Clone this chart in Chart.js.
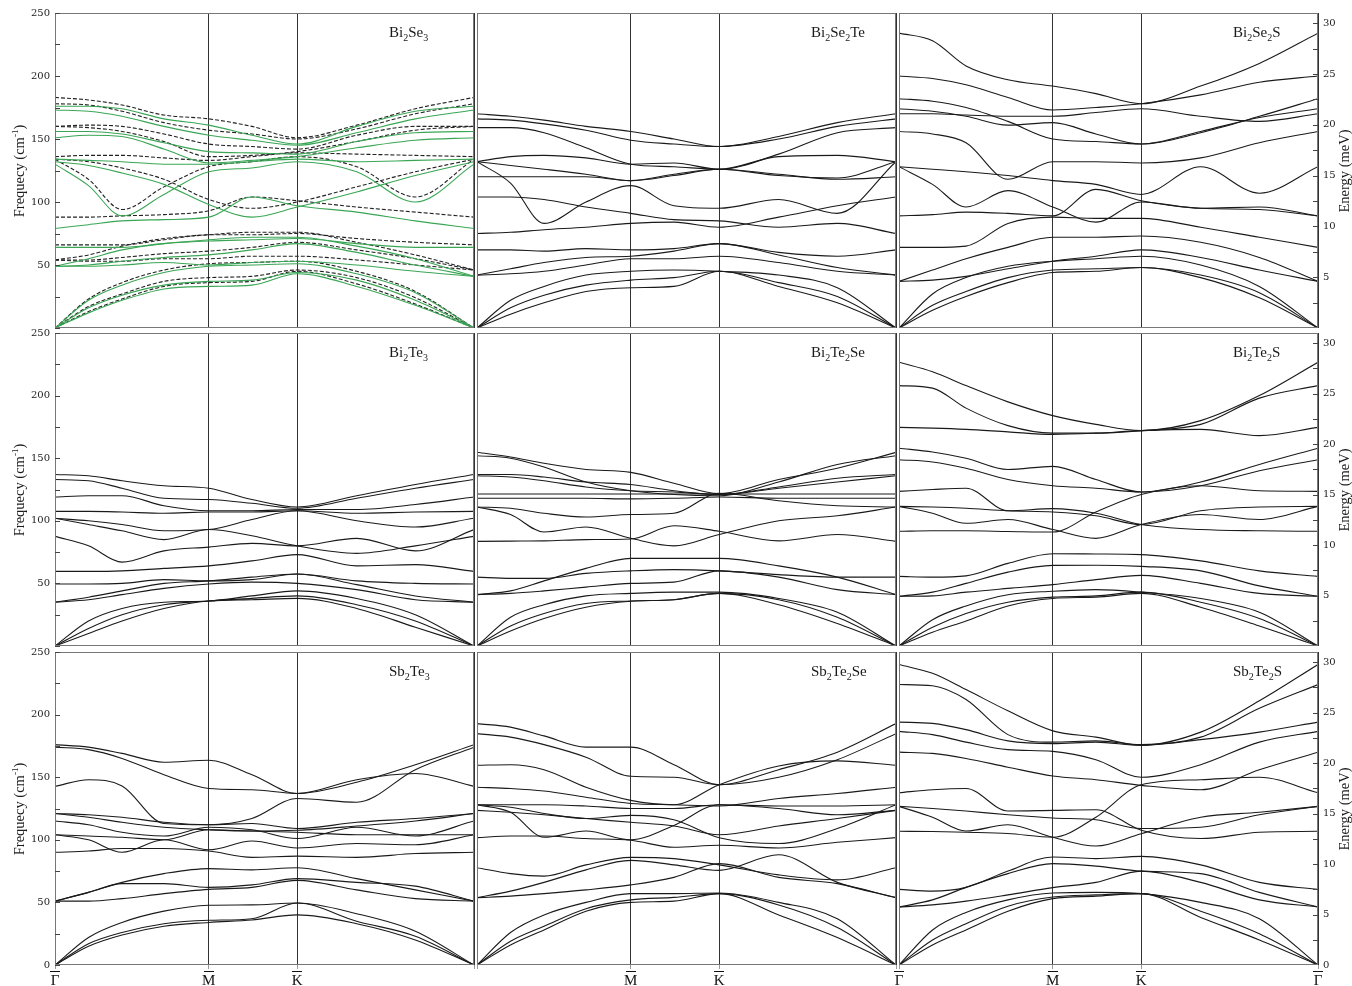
<!DOCTYPE html>
<html>
<head>
<meta charset="utf-8">
<script src="https://cdn.jsdelivr.net/npm/chart.js@4.4.1/dist/chart.umd.min.js"></script>
<style>
  body { margin: 0; background: #fff; width: 1352px; height: 986px; position: relative; overflow: hidden; font-family: "Liberation Serif", serif; }
  canvas { position: absolute; }
  .lbl { position: absolute; font-size: 15px; line-height: 15px; color: #1a1a1a; white-space: nowrap; }
  .lbl sub { font-size: 10px; vertical-align: -4px; line-height: 0; }
  .ttl { position: absolute; font-size: 14.5px; color: #1a1a1a; white-space: nowrap; transform: translate(-50%, -50%) rotate(-90deg); }
  .ttl sup { font-size: 9px; vertical-align: 6px; line-height: 0; }
</style>
</head>
<body>
<script>
// points along the surface Brillouin-zone path  G - M - K - G
const qPath = [0, 0.08, 0.16, 0.26, 0.367, 0.47, 0.578, 0.72, 0.86, 1];
const qTicks = [0, 0.367, 0.578, 1];
const qLabels = ['\u0393', 'M', 'K', '\u0393'];
const freqTicks = [0, 50, 100, 150, 200, 250];
const energyTicks = [0, 5, 10, 15, 20, 25, 30];
const cmPerMeV = 8.0655;

const compounds = ['Bi2Se3', 'Bi2Se2Te', 'Bi2Se2S', 'Bi2Te3', 'Bi2Te2Se', 'Bi2Te2S', 'Sb2Te3', 'Sb2Te2Se', 'Sb2Te2S'];

// phonon branches, cm-1, one row per branch, values at qPath
const bi2se3Dashed = [
  [183, 181, 177, 169, 166, 160, 151, 161, 174, 183],
  [178, 177, 172, 163, 157, 154, 150, 158, 170, 178],
  [160, 161, 160, 154, 146, 144, 142, 153, 160, 160],
  [160, 159, 156, 148, 136, 137, 140, 148, 157, 160],
  [136, 137, 137, 135, 133, 136, 139, 138, 137, 136],
  [134, 132, 127, 118, 102, 95, 100, 112, 124, 134],
  [134, 118, 94, 112, 128, 132, 136, 128, 104, 134],
  [88, 88, 89, 90, 93, 104, 101, 96, 92, 88],
  [66, 66, 66, 70, 74, 74, 75, 71, 68, 66],
  [54, 58, 65, 71, 74, 76, 76, 68, 58, 46],
  [54, 54, 56, 59, 61, 64, 68, 62, 55, 46],
  [54, 53, 53, 55, 55, 57, 57, 54, 50, 46],
  [0, 23, 36, 46, 51, 52, 53, 45, 29, 0],
  [0, 17, 27, 37, 40, 41, 46, 40, 24, 0],
  [0, 13, 23, 33, 36, 37, 45, 35, 19, 0]
];
const bi2se3Green = [
  [176, 176, 174, 166, 161, 153, 146, 160, 172, 176],
  [173, 172, 168, 160, 153, 149, 145, 155, 166, 173],
  [156, 156, 154, 147, 140, 139, 138, 148, 155, 156],
  [151, 153, 152, 142, 131, 133, 136, 143, 149, 151],
  [134, 133, 132, 130, 130, 132, 134, 132, 133, 134],
  [132, 129, 123, 114, 98, 88, 96, 108, 121, 132],
  [130, 113, 89, 106, 124, 127, 132, 124, 100, 130],
  [79, 82, 85, 86, 88, 104, 97, 92, 85, 79],
  [64, 64, 64, 67, 69, 70, 71, 67, 64, 64],
  [49, 55, 62, 67, 70, 72, 72, 65, 55, 41],
  [49, 50, 53, 56, 58, 62, 67, 60, 50, 41],
  [49, 49, 50, 52, 50, 52, 53, 50, 45, 41],
  [0, 22, 34, 44, 49, 50, 51, 43, 28, 0],
  [0, 16, 26, 34, 37, 38, 44, 38, 22, 0],
  [0, 12, 22, 31, 33, 34, 43, 33, 18, 0]
];
const bi2se2te = [
  [170, 168, 165, 160, 156, 150, 144, 152, 163, 170],
  [166, 165, 162, 157, 149, 146, 144, 150, 160, 166],
  [159, 159, 155, 143, 130, 128, 126, 138, 155, 159],
  [132, 136, 137, 135, 130, 131, 126, 136, 137, 132],
  [132, 129, 126, 122, 117, 122, 126, 121, 119, 132],
  [132, 115, 83, 100, 113, 97, 95, 102, 91, 132],
  [120, 120, 120, 120, 117, 121, 126, 122, 118, 120],
  [104, 104, 102, 96, 91, 86, 85, 80, 83, 75],
  [75, 76, 78, 80, 83, 84, 80, 88, 97, 104],
  [62, 62, 61, 63, 62, 63, 67, 60, 57, 62],
  [42, 47, 52, 56, 57, 61, 67, 58, 48, 42],
  [42, 43, 45, 50, 55, 55, 57, 52, 45, 42],
  [0, 22, 33, 42, 45, 46, 45, 42, 32, 0],
  [0, 16, 26, 34, 38, 40, 45, 36, 25, 0],
  [0, 11, 20, 29, 32, 33, 45, 33, 20, 0]
];
const bi2se2s = [
  [234, 228, 208, 197, 192, 186, 178, 192, 210, 234],
  [200, 198, 193, 183, 173, 175, 178, 185, 195, 200],
  [182, 180, 175, 164, 150, 148, 146, 155, 168, 182],
  [174, 172, 168, 161, 163, 154, 146, 156, 167, 174],
  [170, 170, 169, 168, 168, 171, 174, 168, 164, 170],
  [156, 154, 147, 118, 132, 132, 131, 135, 147, 156],
  [128, 126, 124, 121, 117, 114, 106, 128, 107, 128],
  [128, 114, 96, 109, 96, 84, 100, 95, 96, 89],
  [89, 90, 92, 91, 89, 110, 101, 95, 94, 89],
  [64, 64, 65, 83, 88, 87, 87, 80, 72, 64],
  [37, 46, 55, 64, 72, 72, 73, 68, 56, 37],
  [37, 38, 41, 47, 53, 57, 62, 56, 46, 37],
  [0, 27, 40, 49, 53, 55, 57, 50, 33, 0],
  [0, 18, 29, 40, 46, 47, 48, 42, 28, 0],
  [0, 14, 25, 36, 44, 45, 48, 40, 24, 0]
];
const bi2te3 = [
  [137, 136, 132, 128, 126, 117, 111, 120, 129, 137],
  [133, 132, 126, 118, 117, 114, 110, 118, 126, 133],
  [119, 120, 120, 112, 108, 108, 109, 109, 113, 119],
  [107.5, 107.5, 107, 106, 107, 107, 108, 106, 107, 107.5],
  [102, 100, 97, 92, 93, 101, 108, 100, 95, 102],
  [102, 97, 92, 85, 93, 88, 80, 74, 80, 87.6],
  [87.6, 80, 67, 76, 79, 82, 80, 86, 76, 93],
  [59.6, 59.6, 60, 62, 64, 68, 73, 64, 65, 59.6],
  [49.5, 49.5, 50, 53, 52, 53, 57.5, 52, 50, 49.5],
  [35, 39, 44, 50, 52, 55, 57.5, 49, 40, 35],
  [35, 37, 41, 46, 49.5, 51, 50, 45, 37, 35],
  [0, 20, 30, 35, 36, 40, 44, 38, 25, 0],
  [0, 14, 25, 33, 36, 38, 40, 33, 20, 0],
  [0, 10, 20, 30, 36, 37, 38, 30, 15, 0]
];
const bi2te2se = [
  [154.7, 151, 146, 141, 138.7, 130, 121.7, 133, 142, 154.7],
  [152, 150, 143, 131, 124, 121, 120, 131, 145, 152],
  [137, 137, 135, 131, 129, 124, 121, 127, 134, 137],
  [136, 135, 132, 127, 124, 123, 121, 126, 131, 136],
  [121.4, 121.4, 121.4, 121.4, 121.4, 121.4, 121.4, 121.4, 121.4, 121.4],
  [118, 118, 118, 118, 117.5, 118, 119, 118, 118, 118],
  [111, 110, 106, 103, 105, 106, 122, 116, 112, 111],
  [111, 105, 91, 95, 86, 80, 89, 100, 104, 111],
  [83.6, 83.8, 84, 85, 85.5, 96, 91.6, 84, 89, 83.6],
  [55, 54, 54, 58, 60, 61, 60, 57, 55, 55],
  [41, 44, 52, 62, 70, 70, 70, 64, 55, 41],
  [41, 42, 44, 47, 50, 51, 60, 55, 45, 41],
  [0, 23, 33, 40, 42, 43, 43, 38, 27, 0],
  [0, 16, 26, 34, 36, 37, 42, 37, 23, 0],
  [0, 12, 22, 31, 35.7, 37, 42, 33, 18, 0]
];
const bi2te2s = [
  [226.6, 219, 208, 195, 184, 177, 172, 180, 200, 226.6],
  [208, 206, 190, 176, 170, 170, 172, 177, 198, 208],
  [174.6, 174, 173, 171, 169, 170, 172, 173, 168, 174.6],
  [158, 155, 150, 141, 143.5, 133, 123, 131, 145, 158],
  [148.8, 147, 142, 133, 128, 126, 123, 128, 140, 148.8],
  [123.5, 125, 126, 108, 109.7, 106, 97, 93, 92, 91.6],
  [111.5, 111, 110, 108, 107, 104, 97, 108, 111, 111.5],
  [111.5, 106, 98, 101, 93, 86, 97, 105, 101, 111.5],
  [91.6, 92, 92, 91.5, 91, 107, 121, 128, 124, 123.5],
  [55.6, 55, 56, 66, 73.7, 73.5, 73, 68, 60, 55.6],
  [39.7, 43, 50, 59, 64.4, 64.5, 63.6, 60, 48, 39.7],
  [39.7, 40, 43, 46, 49, 53, 56.4, 50, 42, 39.7],
  [0, 21, 32, 41, 43.7, 45, 43, 38, 27, 0],
  [0, 15, 26, 35, 39, 40, 43, 35, 22, 0],
  [0, 11, 20, 32, 38, 39, 42, 31, 16, 0]
];
const sb2te3 = [
  [176, 174, 169, 162, 163.5, 152, 137, 146, 160, 176],
  [174, 172, 165, 152, 141, 140, 137, 148, 153, 142.7],
  [142.7, 148, 143, 113, 112, 117, 133, 130, 156, 174],
  [121, 120, 118, 114, 112, 113, 109, 114, 117, 121],
  [121, 118, 114, 110, 108, 107, 107.6, 111, 115, 121],
  [115, 112, 106, 103, 110, 108, 101, 110, 103, 115],
  [104, 103, 102, 100, 108, 107, 106, 104, 104, 104],
  [104, 100, 90, 100, 92, 99, 93.5, 97, 96, 104],
  [90, 91, 93, 93, 91, 86, 87, 86, 89, 90],
  [51, 58, 66, 73, 77, 76, 77.7, 69, 60, 51],
  [51, 58, 65, 65, 62, 64, 69, 66, 63, 51],
  [51, 51, 53, 57, 60.4, 62, 67.6, 60, 53, 51],
  [0, 22, 34, 43, 47.7, 48, 49.5, 41, 27, 0],
  [0, 17, 26, 33, 35.7, 37, 49.5, 35, 23, 0],
  [0, 15, 24, 31, 34, 36, 40, 33, 20, 0]
];
const sb2te2se = [
  [192.8, 190, 183, 174, 174, 160, 144, 156, 170, 192.8],
  [184.8, 182, 176, 166, 150.7, 150, 144, 150, 164, 184.8],
  [159.5, 160, 156, 142, 131.5, 128, 144, 159, 163, 159.5],
  [142, 141, 139, 134, 129, 128, 127, 133, 137, 142],
  [128, 128, 128, 127, 125, 125, 128, 127, 127, 128],
  [128, 126, 121, 117, 119.5, 116, 101.7, 97, 109, 128],
  [128, 122, 102, 107, 100, 111.5, 128, 125, 120, 123.5],
  [123.5, 122, 120, 117, 114, 111, 104, 111, 117, 123.5],
  [101.7, 103, 103, 101, 99.6, 94, 95.6, 93.5, 98, 101.7],
  [77.7, 73, 71, 80, 86, 85, 80, 72, 68, 77.7],
  [53.8, 59, 66, 76, 83.6, 80, 75.6, 88, 66, 53.8],
  [53.8, 55, 57, 60, 64, 70, 81, 70, 65, 53.8],
  [0, 26, 40, 50, 57, 57, 57.5, 50, 37, 0],
  [0, 19, 31, 45, 52, 54, 57, 48, 30, 0],
  [0, 16, 28, 43, 50, 51, 57, 40, 22, 0]
];
const sb2te2s = [
  [240, 233, 220, 203, 187, 182, 175.5, 186, 211, 240],
  [224, 223, 212, 184, 178, 179, 176, 182, 205, 224],
  [194, 193, 188, 179, 176.8, 178, 175.5, 180, 186, 194],
  [186.6, 184, 178, 172, 170.6, 164, 150, 160, 178, 186.6],
  [170, 169, 165, 158, 151, 148, 143.5, 140, 156, 170],
  [137.6, 140, 141, 123, 123.5, 124, 107.6, 101, 106, 106.8],
  [126.7, 125, 123, 120, 117.4, 116, 109, 110, 120, 126.7],
  [126.7, 118, 107, 112, 102, 95, 104.9, 118, 122, 126.7],
  [106.8, 106.6, 106, 105, 102, 118, 144, 148, 150, 137.6],
  [60.4, 59, 62, 75, 86.3, 85, 86.8, 80, 66, 60.4],
  [46.3, 52, 62, 73, 81, 79, 75, 73, 58, 46.3],
  [46.3, 48, 51, 56, 61.8, 66, 75, 66, 52, 46.3],
  [0, 28, 42, 52, 57.5, 58, 57, 50, 37, 0],
  [0, 20, 33, 47, 54.3, 56, 57, 43, 25, 0],
  [0, 16, 28, 43, 53, 55, 57, 38, 20, 0]
];
const panelBands = [bi2se3Dashed, bi2se2te, bi2se2s, bi2te3, bi2te2se, bi2te2s, sb2te3, sb2te2se, sb2te2s];

// page layout
const colLeft = [55, 477, 899];
const rowTop = [13, 333, 652];
const rowH = [315, 313, 313];
const panelW = 419;
const padL = 55, padR = 34, padT = 13, padB = 22;

// box round each panel, inward ticks on the outer edges, bars over the q labels
const frame = {
  id: 'frame',
  afterDraw(chart, args, opts) {
    const { ctx, chartArea: a, scales } = chart;
    ctx.save();
    ctx.strokeStyle = '#777';
    ctx.lineWidth = 1;
    ctx.strokeRect(a.left + 0.5, a.top + 0.5, a.width - 1, a.height - 1);
    ctx.strokeStyle = '#444';
    ctx.beginPath();
    if (opts.left) {
      for (let v = 0; v <= 250; v += 25) {
        const y = Math.round(scales.y.getPixelForValue(v)) + 0.5;
        ctx.moveTo(a.left, y); ctx.lineTo(a.left + 5, y);
      }
    }
    if (opts.right) {
      for (let v = 2.5; v <= 30; v += 2.5) {
        const y = Math.round(scales.y2.getPixelForValue(v)) + 0.5;
        ctx.moveTo(a.right, y); ctx.lineTo(a.right - 5, y);
      }
    }
    ctx.stroke();
    if (opts.bottom) {
      ctx.strokeStyle = '#111';
      ctx.beginPath();
      scales.x.ticks.forEach((t, k) => {
        if (!opts.labels[k]) return;
        const x = Math.round(scales.x.getPixelForValue(t.value));
        const y = a.bottom + 6.5;
        ctx.moveTo(x - 5, y); ctx.lineTo(x + 5, y);
      });
      ctx.stroke();
    }
    ctx.restore();
  }
};

function bandSet(values, color, dash) {
  return {
    data: qPath.map((q, k) => ({ x: q, y: values[k] })),
    borderColor: color,
    borderDash: dash,
    borderWidth: 1.1,
    pointRadius: 0,
    fill: false,
    cubicInterpolationMode: 'monotone'
  };
}

compounds.forEach((name, i) => {
  const row = Math.floor(i / 3), col = i % 3;
  const cv = document.createElement('canvas');
  cv.width = padL + panelW + padR;
  cv.height = padT + rowH[row] + padB;
  cv.style.left = (colLeft[col] - padL) + 'px';
  cv.style.top = (rowTop[row] - padT) + 'px';
  document.body.appendChild(cv);

  const datasets = [];
  if (i === 0) {
    bi2se3Green.forEach(b => datasets.push(bandSet(b, '#3aa655', [])));
    panelBands[i].forEach(b => datasets.push(bandSet(b, '#222', [4, 2])));
  } else {
    panelBands[i].forEach(b => datasets.push(bandSet(b, '#1a1a1a', [])));
  }

  // the shared G point between two panels is labelled once
  const labels = qLabels.map((s, k) => {
    if (row !== 2) return '';
    if (k === 0 && col === 1) return '';
    if (k === 3 && col < 2) return '';
    return s;
  });

  new Chart(cv, {
    type: 'line',
    data: { datasets },
    plugins: [frame],
    options: {
      responsive: false,
      animation: false,
      layout: { padding: { top: padT, left: 0, right: 0, bottom: 0 } },
      plugins: {
        legend: { display: false },
        tooltip: { enabled: false },
        frame: { left: col === 0, right: col === 2, bottom: row === 2, labels }
      },
      scales: {
        x: {
          type: 'linear', min: 0, max: 1,
          afterFit: s => { s.height = padB; },
          afterBuildTicks: s => { s.ticks = qTicks.map(v => ({ value: v })); },
          grid: { color: '#333', drawTicks: row === 2, tickLength: 4, tickColor: '#999' },
          border: { display: false },
          ticks: {
            display: row === 2, autoSkip: false, maxRotation: 0, padding: 3,
            color: '#111', font: { family: 'Liberation Serif', size: 15 },
            callback: (v, k) => labels[k]
          }
        },
        y: {
          type: 'linear', position: 'left', min: 0, max: 250,
          afterFit: s => { s.width = padL; },
          afterBuildTicks: s => { s.ticks = freqTicks.map(v => ({ value: v })); },
          grid: { display: false, drawTicks: false },
          border: { display: false },
          ticks: {
            display: col === 0, padding: 5, color: '#222',
            font: { family: 'DejaVu Serif', size: 10 },
            callback: v => (v === 0 && row < 2) ? '' : String(v)
          }
        },
        y2: {
          type: 'linear', position: 'right', min: 0, max: 250 / cmPerMeV,
          afterFit: s => { s.width = padR; },
          afterBuildTicks: s => { s.ticks = energyTicks.map(v => ({ value: v })); },
          grid: { display: false, drawTicks: false },
          border: { display: false },
          ticks: {
            display: col === 2, padding: 5, color: '#222',
            font: { family: 'DejaVu Serif', size: 10 },
            callback: v => (v === 0 && row < 2) ? '' : String(v)
          }
        }
      }
    }
  });

  const lbl = document.createElement('div');
  lbl.className = 'lbl';
  lbl.innerHTML = name.replace(/(\d)/g, '<sub>$1</sub>');
  lbl.style.left = (colLeft[col] + 334) + 'px';
  lbl.style.top = (rowTop[row] + 12) + 'px';
  document.body.appendChild(lbl);
});

// axis titles
rowTop.forEach((top, r) => {
  const mid = top + rowH[r] / 2;
  const left = document.createElement('div');
  left.className = 'ttl';
  left.innerHTML = 'Frequecy (cm<sup>-1</sup>)';
  left.style.left = '19px';
  left.style.top = mid + 'px';
  document.body.appendChild(left);
  const right = document.createElement('div');
  right.className = 'ttl';
  right.textContent = 'Energy (meV)';
  right.style.left = '1344px';
  right.style.top = mid + 'px';
  document.body.appendChild(right);
});
</script>
</body>
</html>
